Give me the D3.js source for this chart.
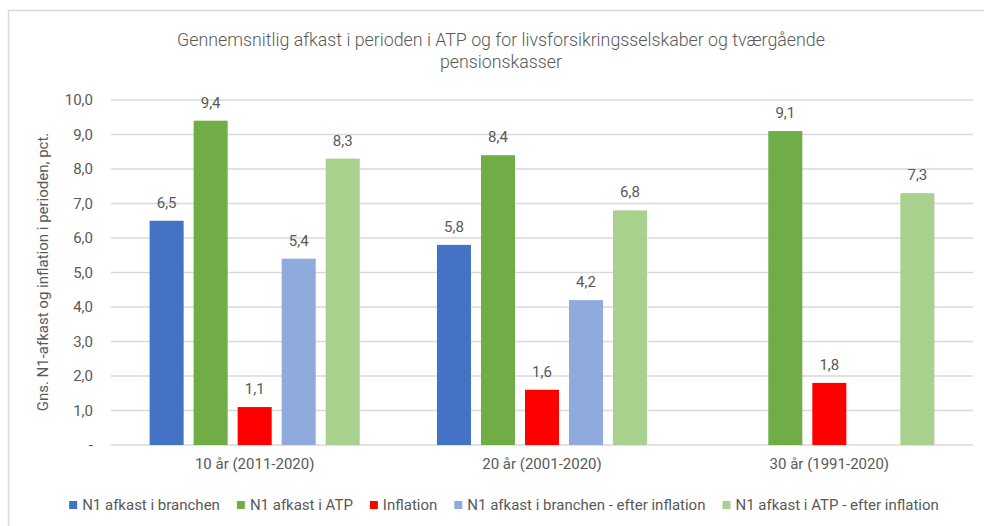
<!DOCTYPE html>
<html>
<head>
<meta charset="utf-8">
<script src="https://cdn.jsdelivr.net/npm/d3@7"></script>
<style>
  body { margin: 0; background: #fff; }
  svg text { font-family: "Roboto", sans-serif; fill: #595959; }
</style>
</head>
<body>
<div id="chart"></div>
<script>
// data
var categories = ["10 år (2011-2020)", "20 år (2001-2020)", "30 år (1991-2020)"];
var seriesNames = ["N1 afkast i branchen", "N1 afkast i ATP", "Inflation",
  "N1 afkast i branchen - efter inflation", "N1 afkast i ATP - efter inflation"];
var seriesColors = ["#4472c4", "#70ad47", "#ff0000", "#8faadc", "#a9d18e"];
var branchen = [6.5, 5.8, null];
var atp = [9.4, 8.4, 9.1];
var inflation = [1.1, 1.6, 1.8];
var branchenReal = [5.4, 4.2, null];
var atpReal = [8.3, 6.8, 7.3];
var yTicks = [0, 1, 2, 3, 4, 5, 6, 7, 8, 9, 10];

var seriesValues = [branchen, atp, inflation, branchenReal, atpReal];

var W = 984, H = 526;
var margin = {top: 100, right: 11, bottom: 81, left: 111},
    width = W - margin.left - margin.right,
    height = H - margin.top - margin.bottom;

var svg = d3.select("#chart")
  .append("svg")
    .attr("width", W)
    .attr("height", H);

// chart frame (cropped on the right and bottom)
svg.append("rect")
  .attr("x", 8.5).attr("y", 10.5)
  .attr("width", W + 20).attr("height", H + 20)
  .attr("fill", "none")
  .attr("stroke", "#d9d9d9")
  .attr("stroke-width", 1.5);

// title
var title = svg.append("text")
  .attr("text-anchor", "middle")
  .style("font-size", "17.8px")
  .style("font-weight", 300);
title.append("tspan").attr("x", 501).attr("y", 46)
  .text("Gennemsnitlig afkast i perioden i ATP og for livsforsikringsselskaber og tværgående");
title.append("tspan").attr("x", 501).attr("y", 68)
  .text("pensionskasser");

var g = svg.append("g")
  .attr("transform", "translate(" + margin.left + "," + margin.top + ")");

// scales
var x0 = d3.scaleBand()
  .domain(categories)
  .range([0, width])
  .paddingInner(0.234)
  .paddingOuter(0.117);

var x1 = d3.scaleBand()
  .domain(d3.range(seriesNames.length))
  .range([0, x0.bandwidth()])
  .paddingInner(0.227)
  .paddingOuter(0.1135);

var y = d3.scaleLinear()
  .domain([0, 10])
  .range([height, 0]);

// gridlines
g.append("g")
  .selectAll("line")
  .data(yTicks)
  .enter()
  .append("line")
    .attr("x1", 0)
    .attr("x2", width)
    .attr("y1", function(d) { return y(d); })
    .attr("y2", function(d) { return y(d); })
    .attr("stroke", "#d9d9d9")
    .attr("stroke-width", 1.3);

// y axis labels
var yAxis = g.append("g")
  .call(d3.axisLeft(y)
    .tickValues(yTicks)
    .tickSize(0)
    .tickPadding(18)
    .tickFormat(function(d) { return d === 0 ? "-" : d3.format(".1f")(d).replace(".", ","); }));
yAxis.select(".domain").remove();
yAxis.selectAll("text").style("font-size", "15px").attr("font-family", null);

// x axis labels
var xAxis = g.append("g")
  .attr("transform", "translate(0," + height + ")")
  .call(d3.axisBottom(x0).tickSize(0).tickPadding(13));
xAxis.select(".domain").remove();
xAxis.selectAll("text").style("font-size", "15px").attr("font-family", null);

// bars
var groups = g.append("g")
  .selectAll("g")
  .data(categories)
  .enter()
  .append("g")
    .attr("transform", function(d) { return "translate(" + x0(d) + ",0)"; });

var cells = groups.selectAll("g")
  .data(function(d, ci) {
    return seriesValues.map(function(s, si) { return {si: si, v: s[ci]}; })
      .filter(function(e) { return e.v != null; });
  })
  .enter()
  .append("g");

cells.append("rect")
  .attr("x", function(d) { return x1(d.si); })
  .attr("y", function(d) { return y(d.v); })
  .attr("width", x1.bandwidth())
  .attr("height", function(d) { return height - y(d.v); })
  .attr("fill", function(d) { return seriesColors[d.si]; });

cells.append("text")
  .attr("x", function(d) { return x1(d.si) + x1.bandwidth() / 2; })
  .attr("y", function(d) { return y(d.v) - 13; })
  .attr("text-anchor", "middle")
  .style("font-size", "15px")
  .text(function(d) { return d3.format(".1f")(d.v).replace(".", ","); });

// y axis title
svg.append("text")
  .attr("transform", "translate(48,272) rotate(-90)")
  .attr("text-anchor", "middle")
  .style("font-size", "15px")
  .text("Gns. N1-afkast og inflation i perioden, pct.");

// legend
var legend = svg.append("g");
var items = legend.selectAll("g")
  .data(seriesNames)
  .enter()
  .append("g");
items.append("rect")
  .attr("width", 8).attr("height", 8)
  .attr("y", -4)
  .attr("fill", function(d, i) { return seriesColors[i]; });
items.append("text")
  .attr("x", 13)
  .attr("y", 5)
  .style("font-size", "15px")
  .text(function(d) { return d; });

var xpos = 0;
items.each(function() {
  var w = 13 + this.querySelector("text").getComputedTextLength();
  d3.select(this).attr("transform", "translate(" + xpos + ",0)");
  xpos += w + 17;
});
var total = xpos - 17;
legend.attr("transform", "translate(" + (504 - total / 2) + ",505)");
</script>
</body>
</html>
